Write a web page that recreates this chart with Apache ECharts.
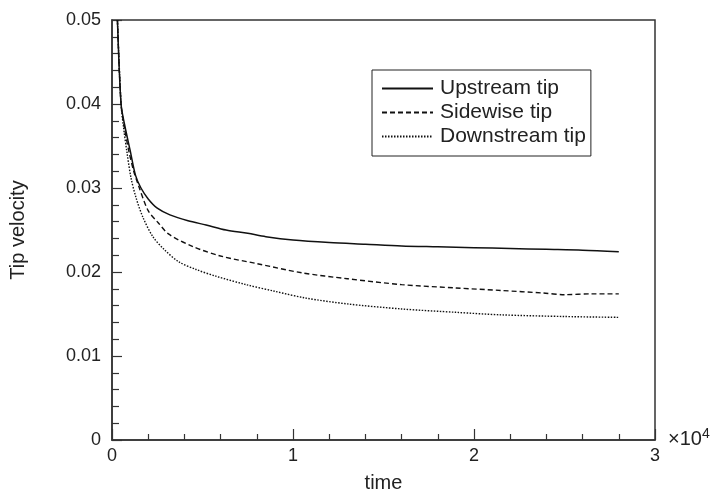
<!DOCTYPE html>
<html>
<head>
<meta charset="utf-8">
<script src="https://cdn.jsdelivr.net/npm/echarts@6/dist/echarts.min.js"></script>
<style>html,body{margin:0;padding:0;background:#fff;}#c{width:714px;height:498px;}</style>
</head>
<body>
<div id="c"></div>
<script>
// time values (raw units; axis shown in units of 1e4)
var upstreamT = [300, 500, 700, 1000, 1300, 1600, 2000, 2500, 3200, 4200, 5200, 6300, 7500, 8500, 10000, 12000, 14000, 16000, 18000, 20000, 22000, 24000, 26000, 28000];
var upstreamV = [0.0500, 0.0400, 0.0375, 0.0345, 0.0315, 0.0300, 0.0287, 0.0276, 0.0268, 0.0261, 0.0256, 0.0250, 0.0246, 0.0242, 0.0238, 0.0235, 0.0233, 0.0231, 0.0230, 0.0229, 0.0228, 0.0227, 0.0226, 0.0224];

var sidewiseT = [300, 500, 700, 950, 1200, 1430, 2000, 2540, 3140, 4500, 6000, 8000, 10500, 13000, 16000, 19000, 21500, 23800, 25000, 26500, 28000];
var sidewiseV = [0.0500, 0.0400, 0.0370, 0.0342, 0.0320, 0.0305, 0.0273, 0.0259, 0.0245, 0.0230, 0.0219, 0.0210, 0.0199, 0.0192, 0.0185, 0.0181, 0.0178, 0.0175, 0.0173, 0.0174, 0.0174];

var downstreamT = [300, 500, 650, 830, 1050, 1320, 1710, 2260, 2870, 3700, 4640, 5740, 7400, 9000, 10700, 13000, 16000, 19000, 21500, 25000, 28000];
var downstreamV = [0.0500, 0.0400, 0.0370, 0.0342, 0.0312, 0.0289, 0.0265, 0.0242, 0.0227, 0.0212, 0.0203, 0.0195, 0.0185, 0.0177, 0.0169, 0.0162, 0.0156, 0.0152, 0.0149, 0.0147, 0.0146];

var seriesNames = ['Upstream tip', 'Sidewise tip', 'Downstream tip'];
var xTickLabels = ['0', '1', '2', '3'];
var yTickLabels = ['0', '0.01', '0.02', '0.03', '0.04', '0.05'];

function pairs(t, v) { return t.map(function (x, i) { return [x, v[i]]; }); }

var FONT = 'Liberation Sans, Arial, Helvetica, sans-serif';
var chart = echarts.init(document.getElementById('c'), null, { renderer: 'canvas' });
chart.setOption({
  animation: false,
  backgroundColor: '#fff',
  grid: { left: 111, right: 59, top: 20, bottom: 52, show: true, borderColor: '#333', borderWidth: 1.5, backgroundColor: 'transparent' },
  legend: {
    orient: 'vertical',
    left: 372, top: 70,
    padding: [8, 5, 9, 9],
    borderColor: '#222', borderWidth: 1,
    itemWidth: 51, itemHeight: 14, itemGap: 3,
    itemStyle: { color: 'transparent', borderWidth: 0, opacity: 0 },
    textStyle: { fontFamily: FONT, fontSize: 21, color: '#222', padding: [0, 0, 0, 2] },
    data: seriesNames
  },
  xAxis: {
    type: 'value', min: 0, max: 30000, interval: 10000,
    name: 'time', nameLocation: 'middle', nameGap: 33,
    nameTextStyle: { fontFamily: FONT, fontSize: 20, color: '#222' },
    axisLine: { show: true, lineStyle: { color: '#333', width: 1.5 } },
    axisTick: { show: true, inside: true, length: 11, lineStyle: { color: '#333', width: 1.2 } },
    minorTick: { show: true, splitNumber: 5, length: 6, lineStyle: { color: '#333', width: 1.2 } },
    splitLine: { show: false },
    axisLabel: { margin: 7, fontFamily: FONT, fontSize: 18, color: '#222', formatter: function (v) { return xTickLabels[Math.round(v / 10000)]; } }
  },
  yAxis: {
    type: 'value', min: 0, max: 0.05, interval: 0.01,
    name: 'Tip velocity', nameLocation: 'middle', nameGap: 84,
    nameTextStyle: { fontFamily: FONT, fontSize: 20, color: '#222' },
    axisLine: { show: true, lineStyle: { color: '#333', width: 1.5 } },
    axisTick: { show: true, inside: true, length: 10, lineStyle: { color: '#333', width: 1.2 } },
    minorTick: { show: true, splitNumber: 5, length: 7, lineStyle: { color: '#333', width: 1.2 } },
    splitLine: { show: false },
    axisLabel: { margin: 11, fontFamily: FONT, fontSize: 18, color: '#222', formatter: function (v) { return yTickLabels[Math.round(v * 100)]; } }
  },
  graphic: [{
    type: 'text', left: 668, top: 427,
    style: {
      text: '×10{s|4}', fontFamily: FONT, fontSize: 20, fill: '#222',
      rich: { s: { fontSize: 14, verticalAlign: 'top', padding: [0, 0, 10, 0] } }
    }
  }],
  series: [
    { name: seriesNames[0], type: 'line', symbol: 'none', smooth: 0.3, data: pairs(upstreamT, upstreamV), lineStyle: { color: '#111', width: 1.5, type: 'solid' }, itemStyle: { color: '#111' } },
    { name: seriesNames[1], type: 'line', symbol: 'none', smooth: 0.3, data: pairs(sidewiseT, sidewiseV), lineStyle: { color: '#111', width: 1.4, type: [5, 3] }, itemStyle: { color: '#111' } },
    { name: seriesNames[2], type: 'line', symbol: 'none', smooth: 0.3, data: pairs(downstreamT, downstreamV), lineStyle: { color: '#111', width: 1.4, type: [1.5, 1.5] }, itemStyle: { color: '#111' } }
  ]
});
</script>
</body>
</html>
